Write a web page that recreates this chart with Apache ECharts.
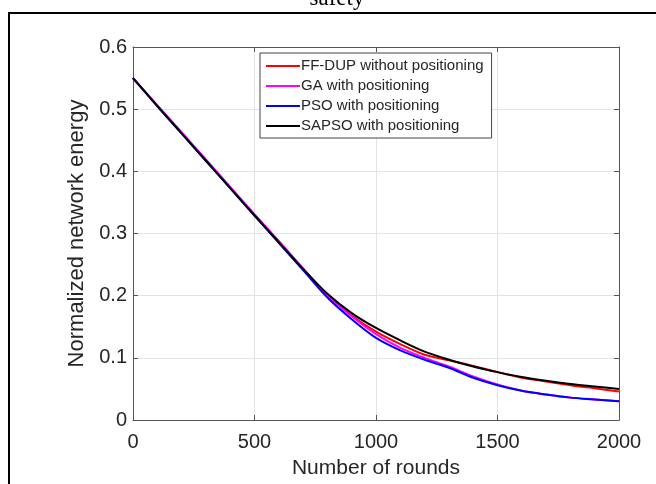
<!DOCTYPE html>
<html>
<head>
<meta charset="utf-8">
<script src="https://cdn.jsdelivr.net/npm/echarts@6/dist/echarts.min.js"></script>
<style>
	html, body { margin: 0; padding: 0; background: #fff; }
	#chart { width: 656px; height: 484px; }
</style>
</head>
<body>
<div id="chart"></div>
<script>
"use strict";

var rounds = [0, 100, 200, 300, 400, 500, 600, 700, 800, 900, 1000, 1100, 1200, 1300, 1400, 1500, 1600, 1700, 1800, 1900, 2000];

var ffdupValues = [0.550, 0.506, 0.462, 0.418, 0.374, 0.330, 0.287, 0.243, 0.201, 0.168, 0.142, 0.122, 0.105, 0.096, 0.087, 0.077, 0.068, 0.062, 0.056, 0.051, 0.046];
var gaValues = [0.550, 0.506, 0.463, 0.419, 0.375, 0.331, 0.288, 0.244, 0.201, 0.167, 0.138, 0.116, 0.100, 0.086, 0.070, 0.057, 0.047, 0.041, 0.036, 0.033, 0.030];
var psoValues = [0.550, 0.505, 0.461, 0.417, 0.373, 0.329, 0.285, 0.241, 0.197, 0.162, 0.132, 0.112, 0.097, 0.084, 0.068, 0.056, 0.047, 0.041, 0.036, 0.033, 0.030];
var sapsoValues = [0.550, 0.505, 0.461, 0.417, 0.373, 0.329, 0.286, 0.243, 0.203, 0.172, 0.148, 0.128, 0.110, 0.097, 0.086, 0.077, 0.069, 0.063, 0.058, 0.054, 0.050];

var seriesNames = ['FF-DUP without positioning', 'GA with positioning', 'PSO with positioning', 'SAPSO with positioning'];
var seriesColors = ['#ff0000', '#ff00ff', '#0000ff', '#000000'];

var FONT = 'Liberation Sans, Arial, sans-serif';
var AXIS_COLOR = '#555';
var TEXT_COLOR = '#262626';

function pairs(values) {
	var out = [];
	for (var i = 0; i < rounds.length; i++) {
		out.push([rounds[i], values[i]]);
	}
	return out;
}

var allValues = [ffdupValues, gaValues, psoValues, sapsoValues];
var series = [];
for (var s = 0; s < seriesNames.length; s++) {
	series.push({
		name: seriesNames[s],
		type: 'line',
		smooth: 0.3,
		symbol: 'none',
		color: seriesColors[s],
		lineStyle: { width: 2, color: seriesColors[s] },
		data: pairs(allValues[s]),
		z: 10 + s
	});
}

// box axes on top and right, ticks only
function sideAxis(pos, isX) {
	return {
		type: 'value',
		position: pos,
		min: 0,
		max: isX ? 2000 : 0.6,
		interval: isX ? 500 : 0.1,
		axisLine: { show: true, onZero: false, lineStyle: { color: AXIS_COLOR, width: 1 } },
		axisTick: { show: true, inside: true, length: 5, lineStyle: { color: AXIS_COLOR } },
		axisLabel: { show: false },
		splitLine: { show: false }
	};
}

var chart = echarts.init(document.getElementById('chart'));
chart.setOption({
	animation: false,
	backgroundColor: '#fff',
	grid: { left: 133, right: 37, top: 47, bottom: 61 },
	graphic: [
		{ type: 'rect', shape: { x: 9, y: 13, width: 660, height: 480 }, style: { fill: 'none', stroke: '#000', lineWidth: 2 }, z: 0 },
		{ type: 'text', x: 337, y: 10, style: { text: 'safety', font: '23px "Liberation Serif", serif', fill: '#000', textAlign: 'center', textVerticalAlign: 'bottom' }, z: 1 }
	],
	legend: {
		orient: 'vertical',
		left: 260,
		top: 53,
		width: 231,
		padding: [5, 8, 4, 6],
		itemGap: 4,
		icon: 'rect',
		itemWidth: 34,
		itemHeight: 2,
		backgroundColor: '#fff',
		borderColor: '#444',
		borderWidth: 1,
		textStyle: { fontFamily: FONT, fontSize: 15, color: TEXT_COLOR, padding: [0, 0, 0, -4], lineHeight: 16 },
		data: seriesNames
	},
	xAxis: [{
		type: 'value',
		min: 0,
		max: 2000,
		interval: 500,
		name: 'Number of rounds',
		nameLocation: 'middle',
		nameGap: 38,
		nameTextStyle: { fontFamily: FONT, fontSize: 21, color: TEXT_COLOR },
		axisLine: { show: true, onZero: false, lineStyle: { color: AXIS_COLOR, width: 1 } },
		axisTick: { show: true, inside: true, length: 5, lineStyle: { color: AXIS_COLOR } },
		axisLabel: { fontFamily: FONT, fontSize: 20, color: TEXT_COLOR, margin: 12, formatter: function(v) { return String(v); } },
		splitLine: { show: true, lineStyle: { color: '#e3e3e3', width: 1 } }
	}, sideAxis('top', true)],
	yAxis: [{
		type: 'value',
		min: 0,
		max: 0.6,
		interval: 0.1,
		name: 'Normalized network energy',
		nameLocation: 'middle',
		nameGap: 40,
		nameTextStyle: { fontFamily: FONT, fontSize: 22, color: TEXT_COLOR },
		axisLine: { show: true, onZero: false, lineStyle: { color: AXIS_COLOR, width: 1 } },
		axisTick: { show: true, inside: true, length: 5, lineStyle: { color: AXIS_COLOR } },
		axisLabel: { fontFamily: FONT, fontSize: 20, color: TEXT_COLOR, margin: 6, formatter: function(v) { return v === 0 ? '0' : v.toFixed(1); } },
		splitLine: { show: true, lineStyle: { color: '#e3e3e3', width: 1 } }
	}, sideAxis('right', false)],
	series: series
});
</script>
</body>
</html>
